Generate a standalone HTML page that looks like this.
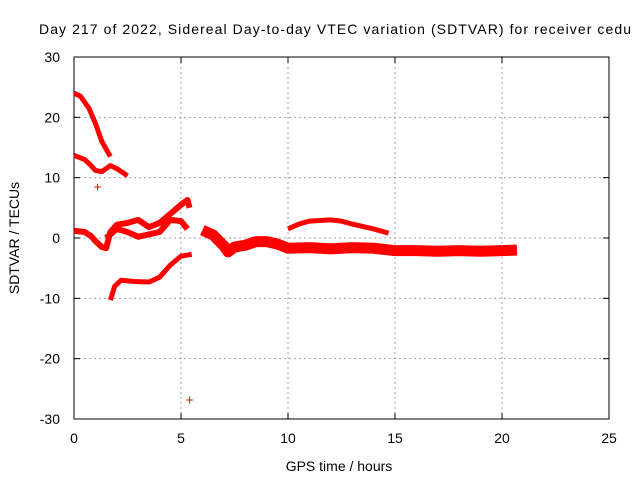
<!DOCTYPE html>
<html><head><meta charset="utf-8"><style>
body{margin:0;background:#fff}
svg{display:block;font-family:"Liberation Sans",sans-serif}
</style></head><body>
<svg id="chart" width="640" height="480">
<text x="39" y="34" font-size="14" textLength="592">Day 217 of 2022, Sidereal Day-to-day VTEC variation (SDTVAR) for receiver cedu</text>
<g id="grid"></g><g id="axes"></g><g id="series"></g>
<text x="339" y="471" font-size="14" text-anchor="middle">GPS time / hours</text>
<text transform="translate(19,238) rotate(-90)" font-size="14" text-anchor="middle">SDTVAR / TECUs</text>
</svg>
<script>
const xTicks=[0,5,10,15,20,25];
const yTicks=[-30,-20,-10,0,10,20,30];
const seriesTop=[[0,24],[0.3,23.5],[0.7,21.5],[1,19],[1.3,16],[1.7,13.5]];
const series13=[[0,13.7],[0.5,13],[0.8,12],[1,11.2],[1.3,11],[1.7,12],[2,11.5],[2.5,10.3]];
const seriesZeroA=[[0,1.2],[0.5,1],[0.8,0.3],[1,-0.5],[1.3,-1.5],[1.5,-1.7],[1.7,1],[2,2.2],[2.5,2.5],[3,3],[3.5,1.8],[4,2.5],[4.5,4],[5,5.5],[5.3,6.3],[5.4,5]];
const seriesZeroB=[[1.5,0],[2,1.5],[2.5,1],[3,0.2],[3.5,0.6],[4,1],[4.5,3],[5,2.8],[5.3,1.5]];
const seriesLow=[[1.7,-10.3],[1.9,-8],[2.2,-7],[2.8,-7.2],[3.5,-7.3],[4,-6.5],[4.5,-4.5],[5,-3],[5.5,-2.7]];
const seriesMain=[[6,1.3],[6.5,0.5],[7,-1.3],[7.2,-2.3],[7.5,-1.5],[8,-1.2],[8.5,-0.6],[9,-0.6],[9.5,-1],[10,-1.7],[11,-1.6],[12,-1.8],[13,-1.6],[14,-1.7],[15,-2.1],[16,-2.1],[17,-2.2],[18,-2.1],[19,-2.2],[20,-2.1],[20.7,-2]];
const seriesArc=[[10,1.5],[10.5,2.3],[11,2.8],[12,3],[12.5,2.8],[13,2.3],[14,1.5],[14.7,0.8]];
const isolated=[[1.1,8.5],[5.4,-26.8]];
const NS="http://www.w3.org/2000/svg";
const X0=74,X1=609,Y0=419,Y1=57;
const sx=v=>X0+(v-0)/(25-0)*(X1-X0);
const sy=v=>Y0-(v+30)/60*(Y0-Y1);
function mk(t,a,p){const e=document.createElementNS(NS,t);for(const k in a)e.setAttribute(k,a[k]);document.getElementById(p).appendChild(e);return e;}
xTicks.forEach(t=>{
 if(t>0&&t<25){const g=mk('line',{x1:sx(t),x2:sx(t),y1:Y1,y2:Y0,stroke:'#a0a0a0','stroke-dasharray':'2,3'},'grid');
 }
 mk('line',{x1:sx(t),x2:sx(t),y1:Y0,y2:Y0-6,stroke:'#000'},'axes');
 mk('line',{x1:sx(t),x2:sx(t),y1:Y1,y2:Y1+6,stroke:'#000'},'axes');
 const l=mk('text',{x:sx(t),y:Y0+24,'font-size':14,'text-anchor':'middle'},'axes');l.textContent=t;
 
});
yTicks.forEach(t=>{
 if(t>-30&&t<30){const g=mk('line',{x1:X0,x2:X1,y1:sy(t),y2:sy(t),stroke:'#a0a0a0','stroke-dasharray':'2,3'},'grid');
 }
 mk('line',{x1:X0,x2:X0+6,y1:sy(t),y2:sy(t),stroke:'#000'},'axes');
 mk('line',{x1:X1,x2:X1-6,y1:sy(t),y2:sy(t),stroke:'#000'},'axes');
 const l=mk('text',{x:X0-14,y:sy(t)+5,'font-size':14,'text-anchor':'end'},'axes');l.textContent=t;
 
});
const fr=mk('rect',{x:X0,y:Y1,width:X1-X0,height:Y0-Y1,fill:'none',stroke:'#000'},'axes');

function line(d,w,name){const p=mk('polyline',{points:d.map(q=>sx(q[0])+','+sy(q[1])).join(' '),fill:'none',stroke:'#f00','stroke-width':w,'stroke-linejoin':'round','stroke-linecap':'butt'},'series');
 }
line(seriesTop,5,'series-top');
line(series13,5,'series-13');
line(seriesZeroA,6,'series-zero-a');
line(seriesZeroB,6,'series-zero-b');
line(seriesLow,5,'series-low');
line(seriesMain,11,'series-main');
line(seriesArc,5,'series-arc');
isolated.forEach(q=>{const t=mk('text',{x:sx(q[0]),y:sy(q[1])+5,'font-size':14,fill:'#f00','text-anchor':'middle'},'series');t.textContent='+';
 });
</script>
</body></html>
